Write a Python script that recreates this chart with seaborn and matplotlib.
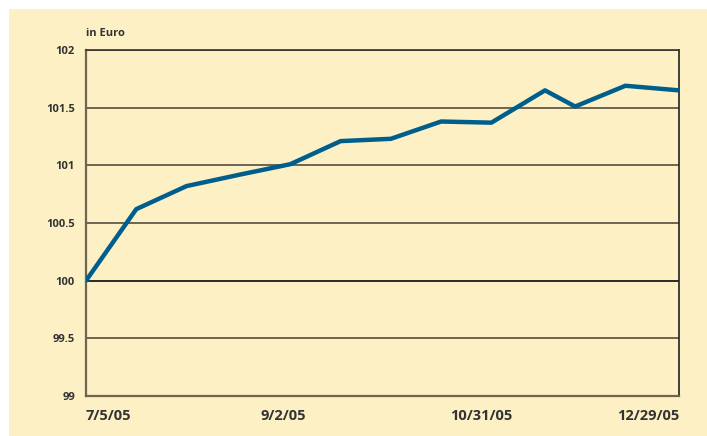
import matplotlib
matplotlib.use("Agg")
import matplotlib.pyplot as plt
import seaborn as sns
import pandas as pd
from matplotlib.patches import Rectangle

dates = ["2005-07-05", "2005-07-20", "2005-08-04", "2005-08-20", "2005-09-04",
         "2005-09-19", "2005-10-04", "2005-10-19", "2005-11-03", "2005-11-19",
         "2005-11-28", "2005-12-13", "2005-12-29"]
values = [100.0, 100.62, 100.82, 100.92, 101.01, 101.21, 101.23, 101.38,
          101.37, 101.65, 101.51, 101.69, 101.65]
y_ticks = [99, 99.5, 100, 100.5, 101, 101.5, 102]
y_labels = ["99", "99.5", "100", "100.5", "101", "101.5", "102"]
x_ticks = ["2005-07-05", "2005-09-02", "2005-10-31", "2005-12-29"]
x_labels = ["7/5/05", "9/2/05", "10/31/05", "12/29/05"]

df = pd.DataFrame({"date": pd.to_datetime(dates), "value": values})

sns.set_theme(style="white")
plt.rcParams["font.family"] = ["Open Sans", "DejaVu Sans"]

bg = "#FDF0C4"
fig = plt.figure(figsize=(7.07, 4.36), dpi=100, facecolor="white")
fig.patches.append(Rectangle((9 / 707, 0), 1, 1 - 9 / 436, transform=fig.transFigure,
                             facecolor=bg, edgecolor="none", zorder=-10))
ax = fig.add_axes([86 / 707, 1 - 396 / 436, (679 - 86) / 707, (396 - 50) / 436])
ax.set_facecolor(bg)

grid_c = "#6E6550"
for yv in y_ticks[1:]:
    ax.axhline(yv, color=grid_c if yv != 100 else "#2a2a2a", lw=1.4, zorder=1)

sns.lineplot(data=df, x="date", y="value", ax=ax, color="#005E8C", lw=3.2,
             zorder=3, legend=False)

ax.set_xlim(pd.Timestamp("2005-07-05"), pd.Timestamp("2005-12-29"))
ax.set_ylim(99, 102)
ax.set_yticks(y_ticks)
ax.set_yticklabels(y_labels, fontsize=8, fontweight="bold", color="#333333")
ax.set_xticks(pd.to_datetime(x_ticks))
ax.set_xticklabels(x_labels, fontsize=10.5, fontweight="bold", color="#333333")
xt = ax.get_xticklabels()
xt[0].set_ha("left")
xt[-1].set_ha("right")
ax.tick_params(axis="x", direction="in", length=4, width=1, color="#333333", pad=9)
ax.tick_params(axis="y", length=0, pad=8)
ax.set_xlabel("")
ax.set_ylabel("")

for side in ["left", "bottom"]:
    ax.spines[side].set_color(grid_c)
    ax.spines[side].set_linewidth(1.6)
ax.spines["right"].set_color("#222222")
ax.spines["right"].set_linewidth(1.2)
ax.spines["top"].set_color("#333333")
ax.spines["top"].set_linewidth(1.2)

fig.text(86 / 707, 1 - 33 / 436, "in Euro", fontsize=8, fontweight="bold",
         color="#333333", ha="left", va="center")

fig.savefig("out.png", dpi=100, facecolor=fig.get_facecolor())
